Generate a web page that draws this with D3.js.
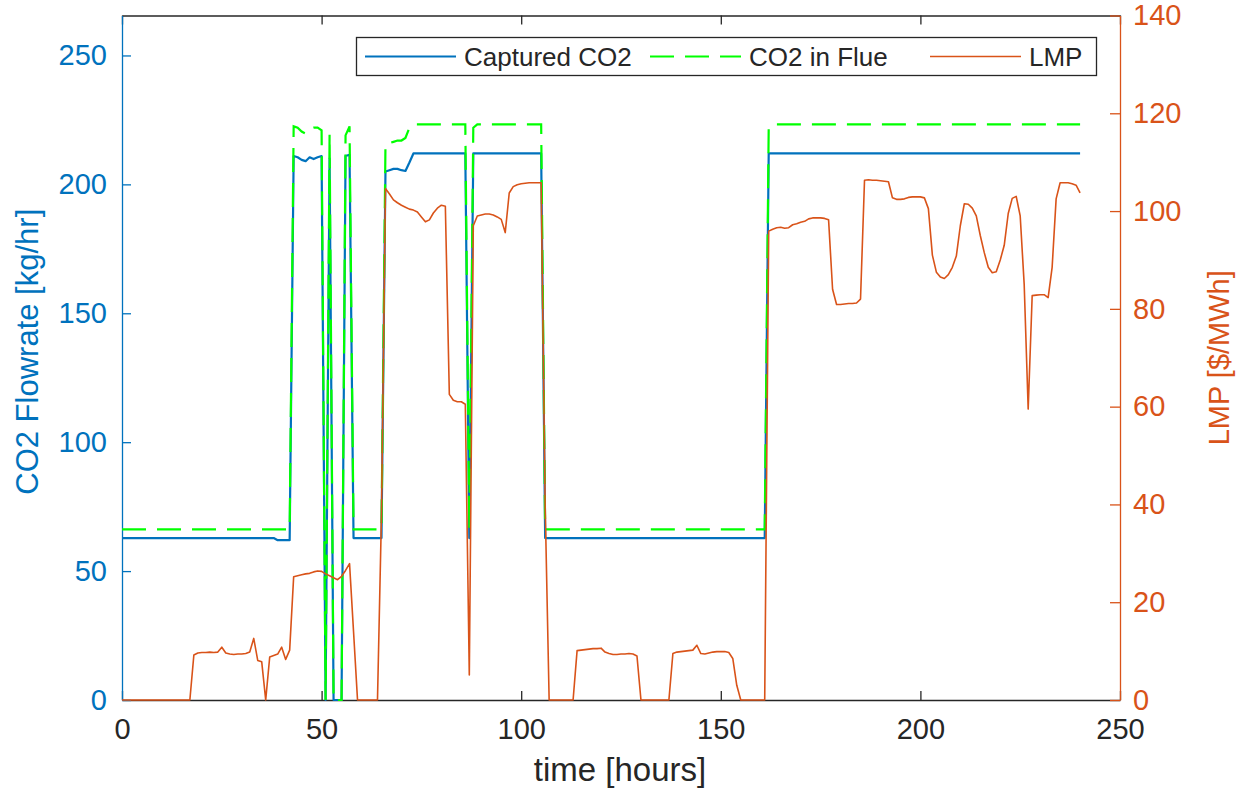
<!DOCTYPE html>
<html>
<head>
<meta charset="utf-8">
<script src="https://cdn.jsdelivr.net/npm/d3@7"></script>
<style>
  body { margin: 0; background: #fff; }
  svg { display: block; }
  text { font-family: "Liberation Sans", Arial, Helvetica, sans-serif; }
</style>
</head>
<body>
<svg id="chart" width="1248" height="788"></svg>
<script>
// Hourly samples, t = 0 .. 240 h
const hours = d3.range(0, 241);

// Captured CO2 flowrate [kg/hr]
const capturedCO2 = [
  62.8, 62.8, 62.8, 62.8, 62.8, 62.8, 62.8, 62.8, 62.8, 62.8,
  62.8, 62.8, 62.8, 62.8, 62.8, 62.8, 62.8, 62.8, 62.8, 62.8,
  62.8, 62.8, 62.8, 62.8, 62.8, 62.8, 62.8, 62.8, 62.8, 62.8,
  62.8, 62.8, 62.8, 62.8, 62.8, 62.8, 62.8, 62.8, 62.8, 62.0,
  62.0, 62.0, 62.0, 211, 210.5, 209.5, 209, 210.5, 209.8, 210.5,
  211, 0, 210, 0, 0, 0, 211, 211.5, 62.8, 62.8,
  62.8, 62.8, 62.8, 62.8, 62.8, 62.8, 205, 205.5, 206, 206,
  205.5, 205.2, 208.5, 212, 212, 212, 212, 212, 212, 212,
  212, 212, 212, 212, 212, 212, 212, 62.8, 212, 212,
  212, 212, 212, 212, 212, 212, 212, 212, 212, 212,
  212, 212, 212, 212, 212, 212, 62.8, 62.8, 62.8, 62.8,
  62.8, 62.8, 62.8, 62.8, 62.8, 62.8, 62.8, 62.8, 62.8, 62.8,
  62.8, 62.8, 62.8, 62.8, 62.8, 62.8, 62.8, 62.8, 62.8, 62.8,
  62.8, 62.8, 62.8, 62.8, 62.8, 62.8, 62.8, 62.8, 62.8, 62.8,
  62.8, 62.8, 62.8, 62.8, 62.8, 62.8, 62.8, 62.8, 62.8, 62.8,
  62.8, 62.8, 62.8, 62.8, 62.8, 62.8, 62.8, 62.8, 62.8, 62.8,
  62.8, 62.8, 212, 212, 212, 212, 212, 212, 212, 212,
  212, 212, 212, 212, 212, 212, 212, 212, 212, 212,
  212, 212, 212, 212, 212, 212, 212, 212, 212, 212,
  212, 212, 212, 212, 212, 212, 212, 212, 212, 212,
  212, 212, 212, 212, 212, 212, 212, 212, 212, 212,
  212, 212, 212, 212, 212, 212, 212, 212, 212, 212,
  212, 212, 212, 212, 212, 212, 212, 212, 212, 212,
  212, 212, 212, 212, 212, 212, 212, 212, 212, 212,
  212
];

// CO2 in flue gas [kg/hr]
const flueCO2 = [
  66.2, 66.2, 66.2, 66.2, 66.2, 66.2, 66.2, 66.2, 66.2, 66.2,
  66.2, 66.2, 66.2, 66.2, 66.2, 66.2, 66.2, 66.2, 66.2, 66.2,
  66.2, 66.2, 66.2, 66.2, 66.2, 66.2, 66.2, 66.2, 66.2, 66.2,
  66.2, 66.2, 66.2, 66.2, 66.2, 66.2, 66.2, 66.2, 66.2, 66.2,
  66.2, 66.2, 66.2, 222.5, 222, 220.5, 219.7, 221.5, 222, 222,
  221, 0, 219.5, 0, 0, 0, 219, 222.5, 66.2, 66.2,
  66.2, 66.2, 66.2, 66.2, 66.2, 66.2, 215.5, 216, 216.5, 217,
  217, 218, 222, 223.3, 223.3, 223.3, 223.3, 223.3, 223.3, 223.3,
  223.3, 223.3, 223.3, 223.3, 223.3, 223.3, 223.3, 66.2, 222, 223.3,
  223.3, 223.3, 223.3, 223.3, 223.3, 223.3, 223.3, 223.3, 223.3, 223.3,
  223.3, 223.3, 223.3, 223.3, 223.3, 223.3, 66.2, 66.2, 66.2, 66.2,
  66.2, 66.2, 66.2, 66.2, 66.2, 66.2, 66.2, 66.2, 66.2, 66.2,
  66.2, 66.2, 66.2, 66.2, 66.2, 66.2, 66.2, 66.2, 66.2, 66.2,
  66.2, 66.2, 66.2, 66.2, 66.2, 66.2, 66.2, 66.2, 66.2, 66.2,
  66.2, 66.2, 66.2, 66.2, 66.2, 66.2, 66.2, 66.2, 66.2, 66.2,
  66.2, 66.2, 66.2, 66.2, 66.2, 66.2, 66.2, 66.2, 66.2, 66.2,
  66.2, 66.2, 222, 223.3, 223.3, 223.3, 223.3, 223.3, 223.3, 223.3,
  223.3, 223.3, 223.3, 223.3, 223.3, 223.3, 223.3, 223.3, 223.3, 223.3,
  223.3, 223.3, 223.3, 223.3, 223.3, 223.3, 223.3, 223.3, 223.3, 223.3,
  223.3, 223.3, 223.3, 223.3, 223.3, 223.3, 223.3, 223.3, 223.3, 223.3,
  223.3, 223.3, 223.3, 223.3, 223.3, 223.3, 223.3, 223.3, 223.3, 223.3,
  223.3, 223.3, 223.3, 223.3, 223.3, 223.3, 223.3, 223.3, 223.3, 223.3,
  223.3, 223.3, 223.3, 223.3, 223.3, 223.3, 223.3, 223.3, 223.3, 223.3,
  223.3, 223.3, 223.3, 223.3, 223.3, 223.3, 223.3, 223.3, 223.3, 223.3,
  223.3
];

// Locational marginal price [$/MWh]
const lmp = [
  0, 0, 0, 0, 0, 0, 0, 0, 0, 0,
  0, 0, 0, 0, 0, 0, 0, 0, 9.2, 9.6,
  9.7, 9.7, 9.8, 9.7, 9.8, 10.8, 9.6, 9.4, 9.3, 9.4,
  9.4, 9.5, 9.8, 12.6, 8.1, 7.8, 0, 8.8, 9.1, 9.4,
  10.8, 8.3, 10.2, 25.2, 25.4, 25.6, 25.8, 25.9, 26.2, 26.4,
  26.3, 25.8, 25.4, 25.0, 24.6, 25.3, 26.5, 27.9, 14, 0,
  0, 0, 0, 0, 0, 38, 104.6, 103.5, 102.3, 101.7,
  101.2, 100.8, 100.4, 100.2, 99.8, 98.8, 97.8, 98.2, 99.6, 100.6,
  101.2, 101, 62.5, 61.3, 61, 61, 60.5, 5.1, 97, 99,
  99.2, 99.4, 99.4, 99.2, 98.8, 98.3, 95.6, 103.7, 105, 105.4,
  105.6, 105.7, 105.8, 105.8, 105.8, 105.8, 40, 0, 0, 0,
  0, 0, 0, 0, 10.1, 10.2, 10.3, 10.4, 10.5, 10.5,
  10.6, 9.8, 9.5, 9.3, 9.3, 9.4, 9.4, 9.5, 9.4, 9.0,
  0, 0, 0, 0, 0, 0, 0, 0, 9.5, 9.8,
  9.9, 10.0, 10.1, 10.2, 11.2, 9.5, 9.4, 9.6, 9.8, 9.9,
  9.9, 9.9, 9.7, 8.5, 3, 0, 0, 0, 0, 0,
  0, 0, 95.9, 96.3, 96.6, 96.7, 96.5, 96.6, 97.2, 97.4,
  97.7, 97.9, 98.4, 98.6, 98.6, 98.6, 98.5, 98.2, 84, 80.9,
  80.9, 81, 81.1, 81.1, 81.2, 82, 106.3, 106.4, 106.3, 106.3,
  106.2, 106.1, 106, 102.7, 102.4, 102.4, 102.5, 102.8, 102.9, 102.9,
  102.9, 102.7, 100.5, 91, 87.5, 86.5, 86.2, 87, 88.5, 90.8,
  97, 101.5, 101.4, 100.6, 99, 95, 91.5, 88.5, 87.4, 87.6,
  90, 93, 99.5, 102.6, 103, 99, 85, 59.5, 82.7, 82.8,
  82.9, 82.9, 82.3, 88.5, 102.5, 105.8, 105.8, 105.8, 105.6, 105.3,
  103.7
];

const xTicks = [0, 50, 100, 150, 200, 250];
const leftTicks = [0, 50, 100, 150, 200, 250];
const rightTicks = [0, 20, 40, 60, 80, 100, 120, 140];
const seriesNames = ["Captured CO2", "CO2 in Flue", "LMP"];

const BLUE = "#0072BD", GREEN = "#00FF00", ORANGE = "#D95319", INK = "#262626";

const svg = d3.select("#chart");
const plot = { left: 122, right: 1120, top: 15.5, bottom: 700 };

const x = d3.scaleLinear().domain([0, 250]).range([plot.left, plot.right]);
const yL = d3.scaleLinear().domain([0, 265.5]).range([plot.bottom, plot.top]);
const yR = d3.scaleLinear().domain([0, 140]).range([plot.bottom, plot.top]);

// ---- axes (ticks point inward) ----
const gBottom = svg.append("g")
  .attr("transform", `translate(0,${plot.bottom})`)
  .call(d3.axisBottom(x).tickValues(xTicks).tickSizeInner(-9).tickSizeOuter(0).tickPadding(18));
const gTop = svg.append("g")
  .attr("transform", `translate(0,${plot.top})`)
  .call(d3.axisTop(x).tickValues(xTicks).tickSizeInner(-9).tickSizeOuter(0).tickFormat(""));
[gBottom, gTop].forEach(g => {
  g.select(".domain").attr("stroke", INK).attr("stroke-width", 1.3);
  g.selectAll(".tick line").attr("stroke", INK).attr("stroke-width", 1.3);
});
gBottom.selectAll(".tick text").attr("fill", INK).attr("font-size", 29);

const gLeft = svg.append("g")
  .attr("transform", `translate(${plot.left},0)`)
  .call(d3.axisLeft(yL).tickValues(leftTicks).tickSizeInner(-9).tickSizeOuter(0).tickPadding(15));
gLeft.select(".domain").attr("stroke", BLUE).attr("stroke-width", 1.3);
gLeft.selectAll(".tick line").attr("stroke", BLUE).attr("stroke-width", 1.3);
gLeft.selectAll(".tick text").attr("fill", BLUE).attr("font-size", 29);

const gRight = svg.append("g")
  .attr("transform", `translate(${plot.right},0)`)
  .call(d3.axisRight(yR).tickValues(rightTicks).tickSizeInner(-10).tickSizeOuter(0).tickPadding(13));
gRight.select(".domain").attr("stroke", ORANGE).attr("stroke-width", 1.3);
gRight.selectAll(".tick line").attr("stroke", ORANGE).attr("stroke-width", 1.3);
gRight.selectAll(".tick text").attr("fill", ORANGE).attr("font-size", 29);

// ---- axis titles ----
svg.append("text")
  .attr("x", (plot.left + plot.right) / 2 - 1).attr("y", 781)
  .attr("text-anchor", "middle").attr("font-size", 33).attr("fill", INK)
  .text("time [hours]");
svg.append("text")
  .attr("transform", `translate(38,${(plot.top + plot.bottom) / 2 - 6}) rotate(-90)`)
  .attr("text-anchor", "middle").attr("font-size", 31).attr("fill", BLUE)
  .text("CO2 Flowrate [kg/hr]");
svg.append("text")
  .attr("transform", `translate(1229,${(plot.top + plot.bottom) / 2}) rotate(-90)`)
  .attr("text-anchor", "middle").attr("font-size", 29).attr("fill", ORANGE)
  .text("LMP [$/MWh]");

// ---- series ----
const lineL = d3.line().x((d, i) => x(hours[i])).y(d => yL(d));
const lineR = d3.line().x((d, i) => x(hours[i])).y(d => yR(d));

svg.append("path").datum(capturedCO2)
  .attr("d", lineL).attr("fill", "none")
  .attr("stroke", BLUE).attr("stroke-width", 2.2).attr("stroke-linejoin", "round");
svg.append("path").datum(flueCO2)
  .attr("d", lineL).attr("fill", "none")
  .attr("stroke", GREEN).attr("stroke-width", 2.2).attr("stroke-dasharray", "24 11");
svg.append("path").datum(lmp)
  .attr("d", lineR).attr("fill", "none")
  .attr("stroke", ORANGE).attr("stroke-width", 1.6).attr("stroke-linejoin", "round");

// ---- legend ----
const legend = svg.append("g");
legend.append("rect")
  .attr("x", 356.5).attr("y", 37.5).attr("width", 740).attr("height", 38)
  .attr("fill", "#fff").attr("stroke", INK).attr("stroke-width", 1.3);
const legendItems = [
  { name: seriesNames[0], color: BLUE, dash: null, x0: 365, x1: 456, tx: 464 },
  { name: seriesNames[1], color: GREEN, dash: "24 11", x0: 650, x1: 741, tx: 749 },
  { name: seriesNames[2], color: ORANGE, dash: null, x0: 930, x1: 1021, tx: 1029 }
];
legendItems.forEach(it => {
  legend.append("line")
    .attr("x1", it.x0).attr("x2", it.x1).attr("y1", 56.5).attr("y2", 56.5)
    .attr("stroke", it.color).attr("stroke-width", it.color === ORANGE ? 1.6 : 2.2)
    .attr("stroke-dasharray", it.dash);
  legend.append("text")
    .attr("x", it.tx).attr("y", 66).attr("font-size", 26).attr("fill", INK)
    .text(it.name);
});
</script>
</body>
</html>
